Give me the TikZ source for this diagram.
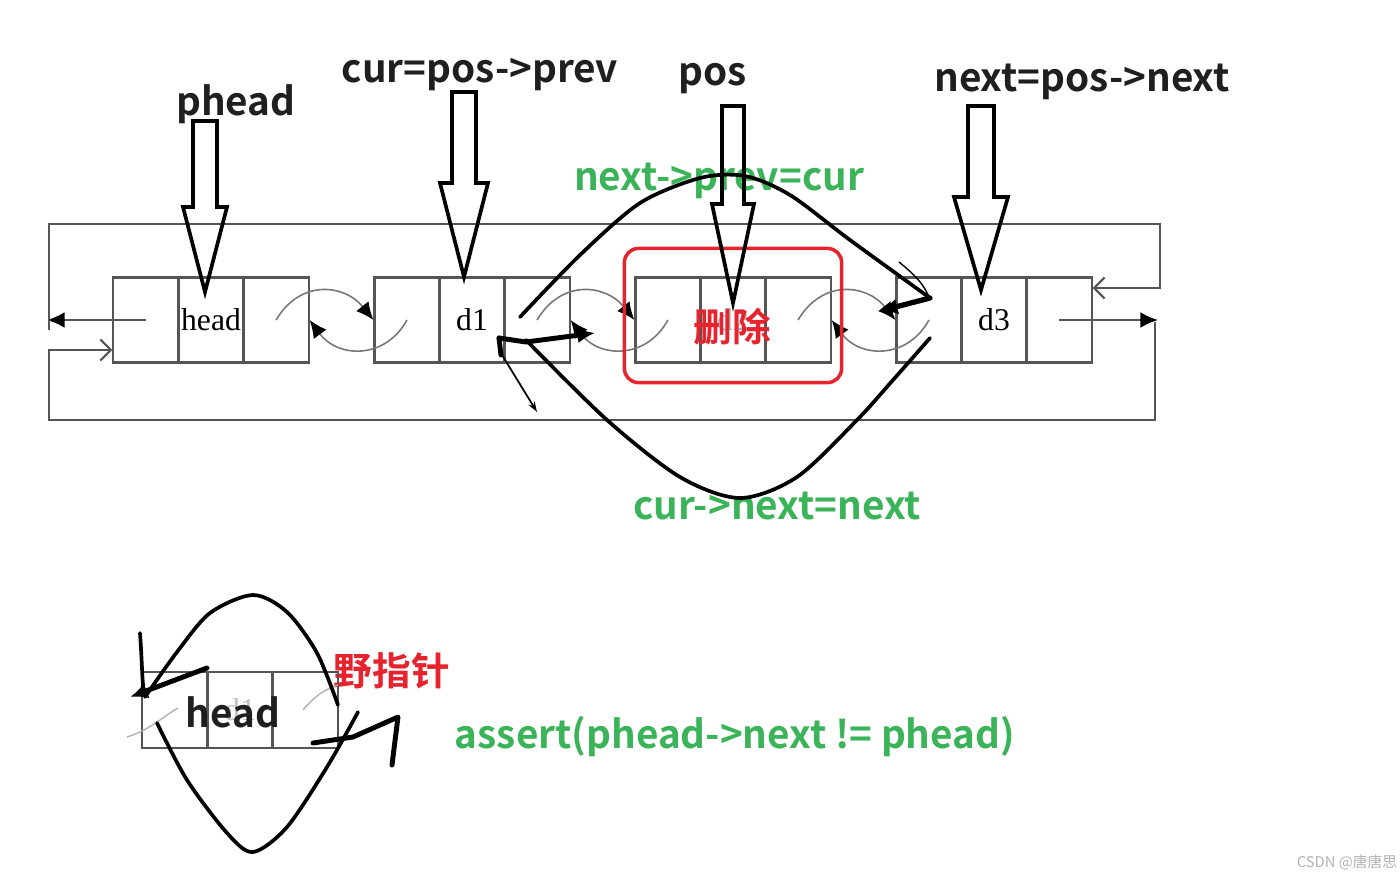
\documentclass[tikz,border=0pt]{standalone}
\usepackage{fontspec}
\newfontfamily\lblfont{Noto Sans CJK SC Bold}
\newfontfamily\markfont{Noto Sans CJK SC}
\newfontfamily\cellfont{Liberation Serif}
\usetikzlibrary{matrix,arrows.meta,calc}
\definecolor{notegreen}{RGB}{59,179,89}
\definecolor{notered}{RGB}{230,36,46}
\definecolor{linegray}{RGB}{85,85,85}

\begin{document}
\begin{tikzpicture}[x=0.01cm,y=-0.01cm,
    node list/.style={matrix of nodes, nodes in empty cells,
        column sep=-0.6pt,
        nodes={draw=linegray, line width=0.6pt, minimum width=0.65cm,
               minimum height=0.85cm, inner sep=0pt, anchor=center,
               font=\cellfont\fontsize{9}{9}\selectfont}},
    ring/.style={draw=linegray, line width=0.6pt},
    link/.style={draw=linegray!80, line width=0.45pt,
                 -{Latex[length=5pt,width=4.5pt,black]}},
    hand/.style={line width=1.05pt, line cap=round, line join=round},
    hollow/.style={line width=1.05pt, line join=miter},
    tag/.style={font=\lblfont\fontsize{11}{13}\selectfont, text=black!88,
                inner sep=0pt, anchor=base},
    ]
\useasboundingbox (0,0) rectangle (1400,875);

    % List nodes ---------------------------------------------------------
    \matrix (hd) [node list] at (211,320) { & head & \\ };
    \matrix (d1) [node list] at (472,320) { & d1 & \\ };
    \matrix (d2) [node list] at (733,320) { & |[text=gray!60]| d2 & \\ };
    \matrix (d3) [node list] at (994,320) { & d3 & \\ };

    % Outer frame --------------------------------------------------------
    \draw[ring,-{Latex[length=5pt,width=4.5pt,black]}] (hd-1-1.center) -- (hd-1-1.center -| 47,0);
    \draw[ring,-{Straight Barb[length=3pt,width=6pt]}]
        (49,330) -- (49,224) -- (1160,224) -- (1160,288) -- (d3-1-3.east |- 0,288);
    \draw[ring,-{Latex[length=5pt,width=4.5pt,black]}] (d3-1-3.center) -- (d3-1-3.center -| 1158,0);
    \draw[ring,-{Straight Barb[length=3pt,width=6pt]}]
        (1155,322) -- (1155,420) -- (49,420) -- (49,350) -- (hd-1-1.west |- 0,350);

    \foreach \a/\b in {hd/d1,d1/d2,d2/d3}{
        \draw[link] (\a-1-3.center) .. controls +(25,-42) and +(-28,-35) .. (\b-1-1.west);
        \draw[link] (\b-1-1.center) .. controls +(-22,40) and +(28,38) .. (\a-1-3.east);
    }

    % Labels -------------------------------------------------------------
    \node[tag] (phead) at (236,115) {phead};
    \node[tag] (cur) at (480,82) {cur=pos->prev};
    \node[tag] (pos) at (713,85) {pos};
    \node[tag] (nxt) at (1082,91) {next=pos->next};
    \node[tag, text=notegreen] (setprev) at (719,190) {next->prev=cur};
    \node[tag, text=notegreen] (setnext) at (777,519) {cur->next=next};
    \node[tag, text=notegreen] (chk) at (735,748) {assert(phead->next != phead)};
    \node[tag, text=notered, anchor=center] (del) at (732,327) {删除};
    \node[tag, text=notered, anchor=center] (wild) at (392,671) {野指针};

    \draw[notered, line width=1pt, rounded corners=4pt]
        ($(d2-1-1.north west)+(-10,-28)$) rectangle ($(d2-1-3.south east)+(10,19)$);

    % Pointer arrows -----------------------------------------------------
    \foreach \x/\t/\b/\p/\s/\h in {205/121/207/292/12/22, 464/92/183/277/12/24,
                                    733/106/204/303/11/21, 981/106/197/290/13/27}
        \draw[hollow] (\x-\s,\t) -- (\x+\s,\t) -- (\x+\s,\b) -- (\x+\h,\b)
                      -- (\x,\p) -- (\x-\h,\b) -- (\x-\s,\b) -- cycle;

    % Hand strokes -------------------------------------------------------
    \draw[hand] plot[smooth] coordinates {(520,317) (580,255) (640,203) (700,178)
        (745,176) (790,195) (850,240) (930,298)};
    \draw[hand, line width=1.5pt, -{Latex[length=5pt,width=4.5pt]}] (930,298) -- (880,311);
    \draw[line width=0.4pt] (899,262) .. controls (915,275) and (925,285) .. (930,300);
    \draw[hand] plot[smooth] coordinates {(526,340) (607,420) (680,477) (740,498)
        (797,477) (857,420) (893,380) (930,338)};
    \draw[hand, line width=1.4pt, -{Latex[length=5pt,width=4.5pt]}]
        (499,338) -- (526,342) -- (595,333);
    \draw[hand, line width=1.4pt] (499,338) -- (501,355);
    \draw[line width=0.5pt, -{Stealth[length=3pt,width=2pt]}] (499,350) -- (537,412);

    % Single node --------------------------------------------------------
    \matrix (lone) [node list, nodes={minimum height=0.76cm}] at (240,710)
        { & |[text=gray!50]| d1 & \\ };
    \node[tag] (headtag) at (233,727) {head};
    \draw[gray!60, line width=0.4pt] (127,737) .. controls (150,730) and (165,715) .. (178,708);
    \draw[gray!60, line width=0.4pt] (303,710) .. controls (315,695) and (328,688) .. (338,685);

    \draw[hand] (140,633) .. controls (142,660) and (142,680) .. (144,695);
    \draw[hand, line width=1.4pt, -{Latex[length=5pt,width=4.5pt]}] (207,668) -- (130,697);
    \draw[hand] plot[smooth] coordinates {(145,697) (177,652) (210,613) (253,595)
        (287,612) (317,653) (338,705)};
    \draw[hand] plot[smooth] coordinates {(157,723) (187,780) (227,833) (253,852)
        (287,827) (327,767) (358,712)};
    \draw[hand, line width=1.4pt] (313,743) -- (353,737) -- (398,717) -- (392,765);

    \node[font=\markfont\fontsize{4.2}{5}\selectfont, text=gray!60] (wm) at (1347,862) {CSDN @唐唐思};
\end{tikzpicture}
\end{document}
